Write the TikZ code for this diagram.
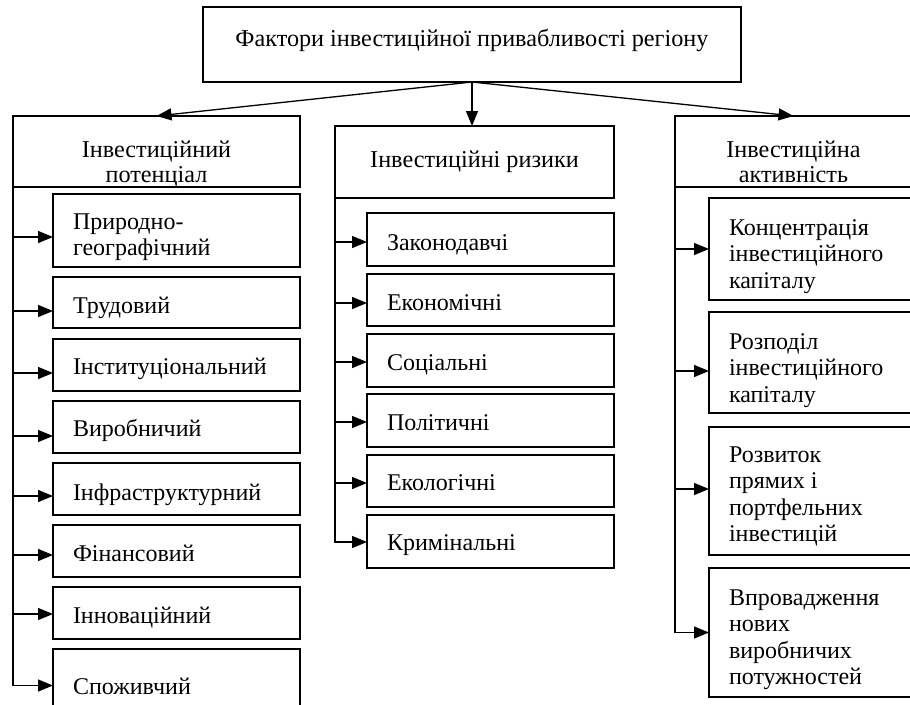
\documentclass[tikz,border=0pt]{standalone}
\usepackage{fontspec}
\setmainfont{Liberation Serif}
\usetikzlibrary{arrows.meta,calc}
% #1 = baseline offset below the centre, #2 = width, #3 = text
\newcommand\btxt[3]{\raisebox{-#1}[0pt][0pt]{\parbox[t]{#2}{#3}}}
\begin{document}
\begin{tikzpicture}[x=1pt,y=-1pt,
  box/.style={draw, line width=2.4pt, rectangle, outer sep=0pt, inner xsep=20pt, inner ysep=0pt,
    anchor=north west, font=\fontsize{24}{26.5}\selectfont},
  lbox/.style={box, minimum width=247pt, minimum height=52pt},
  rbox/.style={box, minimum width=203pt},
  hbox/.style={draw, line width=1.8pt, rectangle, outer sep=0pt, inner sep=0pt,
    anchor=north west, font=\fontsize{24.2}{25}\selectfont},
  conn/.style={line width=1.3pt, -{Triangle[length=15pt,width=12pt]}},
  line/.style={line width=1.3pt}
]
\useasboundingbox (0,0) rectangle (910,704);
\fill[white] (0,0) rectangle (910,704);
\clip (0,0) rectangle (910,704);

% top
\node[hbox, minimum width=538pt, minimum height=75pt] (top) at (203,7)
  {\btxt{2.2pt}{538pt}{\centering Фактори інвестиційної привабливості регіону}};

% headers
\node[hbox, minimum width=287pt, minimum height=71pt] (Lh) at (13,116)
  {\btxt{5.5pt}{287pt}{\centering Інвестиційний\\потенціал}};
\node[hbox, minimum width=279pt, minimum height=72pt] (Mh) at (335,126)
  {\btxt{5pt}{279pt}{\centering Інвестиційні ризики}};
\node[hbox, minimum width=237pt, minimum height=71pt] (Rh) at (675,116)
  {\btxt{5.5pt}{237pt}{\centering Інвестиційна\\активність}};

% left column
\node[lbox, minimum height=73pt] (p1) at (53,194) {\btxt{-1.2pt}{207pt}{Природно-\\географічний}};
\node[lbox, minimum height=51pt] (p2) at (53,277) {\btxt{10.8pt}{207pt}{Трудовий}};
\node[lbox] (p3) at (53,339) {\btxt{9pt}{207pt}{Інституціональний}};
\node[lbox] (p4) at (53,401) {\btxt{9.7pt}{207pt}{Виробничий}};
\node[lbox] (p5) at (53,463) {\btxt{11pt}{207pt}{Інфраструктурний}};
\node[lbox] (p6) at (53,525) {\btxt{10.7pt}{207pt}{Фінансовий}};
\node[lbox] (p7) at (53,587) {\btxt{10pt}{207pt}{Інноваційний}};
\node[lbox, minimum height=73pt] (p8) at (53,649) {\btxt{8.5pt}{207pt}{Споживчий}};

% middle column
\node[lbox, minimum height=53pt] (m1) at (367,213) {\btxt{11pt}{207pt}{Законодавчі}};
\node[lbox] (m2) at (367,274) {\btxt{10.7pt}{207pt}{Економічні}};
\node[lbox, minimum height=53pt] (m3) at (367,334) {\btxt{9.5pt}{207pt}{Соціальні}};
\node[lbox, minimum height=53pt] (m4) at (367,394) {\btxt{10pt}{207pt}{Політичні}};
\node[lbox] (m5) at (367,455) {\btxt{9.7pt}{207pt}{Екологічні}};
\node[lbox, minimum height=53pt] (m6) at (367,515) {\btxt{9.2pt}{207pt}{Кримінальні}};

% right column
\node[rbox, minimum height=102pt] (r1) at (709,198)
  {\btxt{-14pt}{163pt}{Концентрація\\інвестиційного\\капіталу}};
\node[rbox, minimum height=101pt] (r2) at (709,312)
  {\btxt{-13.5pt}{163pt}{Розподіл\\інвестиційного\\капіталу}};
\node[rbox, minimum height=128pt] (r3) at (709,427)
  {\btxt{-29pt}{163pt}{Розвиток\\прямих і\\портфельних\\інвестицій}};
\node[rbox, minimum height=129pt] (r4) at (709,568)
  {\btxt{-27.5pt}{163pt}{Впровадження\\нових\\виробничих\\потужностей}};

% top connectors
\draw[conn] (top.south) -- (Lh.north);
\draw[conn] (top.south) -- (top.south |- Mh.north);
\draw[conn] (top.south) -- (Rh.north);

% left spine
\foreach \n/\d in {p1/6.5,p2/8.5,p3/8,p4/9,p5/7,p6/4,p7/1,p8/0}{
  \coordinate (a\n) at ($(\n.west)+(0,\d)$);
}
\foreach \n in {p1,p2,p3,p4,p5,p6,p7}{
  \draw[conn] (a\n -| Lh.west) -- (a\n);
}
\draw[conn] (Lh.south west) |- (ap8);

% middle spine
\foreach \n/\d in {m1/2.5,m2/3,m3/1.5,m4/1.5,m5/2,m6/0.5}{
  \coordinate (a\n) at ($(\n.west)+(0,\d)$);
}
\foreach \n in {m1,m2,m3,m4,m5}{
  \draw[conn] (a\n -| Mh.west) -- (a\n);
}
\draw[conn] (Mh.south west) |- (am6);

% right spine
\foreach \n/\d in {r1/0,r2/8.5,r3/-2,r4/0}{
  \coordinate (a\n) at ($(\n.west)+(0,\d)$);
}
\foreach \n in {r1,r2,r3}{
  \draw[conn] (a\n -| Rh.west) -- (a\n);
}
\draw[conn] (Rh.south west) |- (ar4);
\end{tikzpicture}
\end{document}
